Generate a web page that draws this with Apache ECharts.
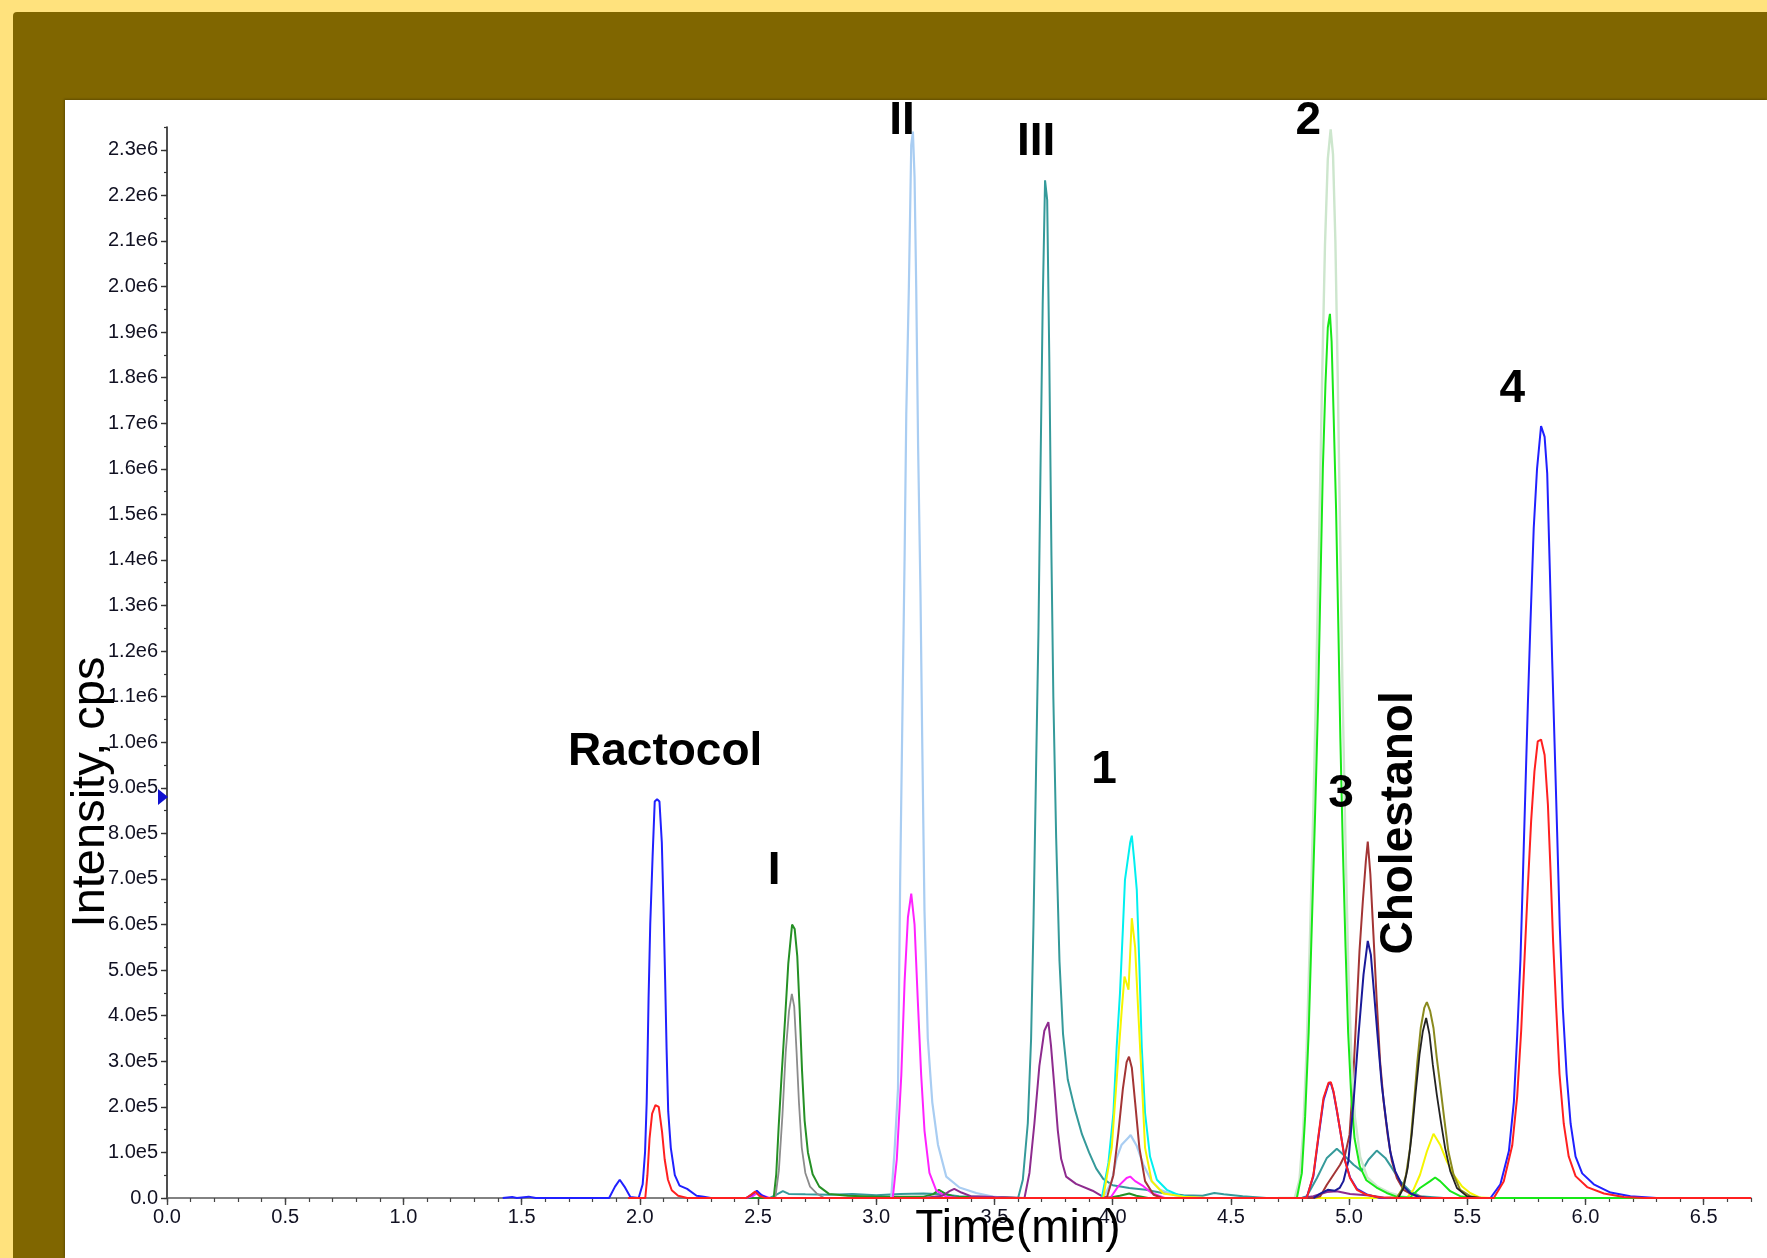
<!DOCTYPE html>
<html><head><meta charset="utf-8">
<script src="https://cdn.jsdelivr.net/npm/echarts@6/dist/echarts.min.js"></script>
<style>
html,body{margin:0;padding:0;width:1767px;height:1258px;overflow:hidden;background:#FFE27D;}
#olive{position:absolute;left:13px;top:12px;right:0;bottom:0;background:#806600;border-top-left-radius:4px;}
#panel{position:absolute;left:65px;top:100px;right:0;bottom:0;background:#fff;box-shadow:-1px -1px 2px rgba(0,0,0,0.25);}
#chart{position:absolute;left:0;top:0;width:1767px;height:1258px;}
</style></head><body>
<div id="olive"></div><div id="panel"></div><div id="chart"></div>
<script>
// ---- tick values ----
const xMajorTicks = [0,0.5,1,1.5,2,2.5,3,3.5,4,4.5,5,5.5,6,6.5];
const yMajorTicks = [0,100000,200000,300000,400000,500000,600000,700000,800000,900000,1000000,1100000,1200000,1300000,1400000,1500000,1600000,1700000,1800000,1900000,2000000,2100000,2200000,2300000];

// ---- traces: [time (min), intensity (cps)] ----
const blueTrace = [[1.42,0],[1.46,2000],[1.48,0],[1.53,3000],[1.56,0],[1.87,0],[1.895,25000],[1.915,40000],[1.935,25000],[1.96,2000],[1.995,0],[2.012,30000],[2.022,100000],[2.029,210000],[2.033,320000],[2.037,440000],[2.044,600000],[2.054,750000],[2.063,870000],[2.073,875000],[2.083,870000],[2.093,780000],[2.1,640000],[2.107,480000],[2.113,330000],[2.12,190000],[2.131,110000],[2.148,50000],[2.168,27000],[2.2,20000],[2.24,5000],[2.27,3000],[2.3,0],[2.45,0],[2.475,8000],[2.495,16000],[2.515,6000],[2.54,0],[4.8,0],[4.82,0],[4.849,48000],[4.871,135000],[4.892,215000],[4.913,250000],[4.923,252000],[4.934,232000],[4.948,192000],[4.965,140000],[4.983,82000],[5.004,45000],[5.033,20000],[5.075,8000],[5.13,0],[5.598,0],[5.64,30000],[5.676,103000],[5.697,211000],[5.711,356000],[5.725,525000],[5.736,719000],[5.746,900000],[5.756,1080000],[5.767,1260000],[5.781,1470000],[5.795,1600000],[5.812,1694000],[5.827,1670000],[5.838,1590000],[5.849,1380000],[5.859,1180000],[5.869,1000000],[5.88,803000],[5.891,598000],[5.904,417000],[5.92,272000],[5.937,163000],[5.958,91000],[5.986,54000],[6.035,30000],[6.106,12000],[6.19,4000],[6.3,0],[6.7,0]];
const redTrace = [[1.95,0],[2.023,0],[2.032,50000],[2.041,130000],[2.052,185000],[2.066,204000],[2.08,200000],[2.094,145000],[2.105,85000],[2.119,40000],[2.135,17000],[2.162,5000],[2.2,0],[2.45,0],[2.47,7000],[2.488,14000],[2.505,5000],[2.53,0],[4.8,0],[4.821,0],[4.849,51000],[4.871,139000],[4.892,220000],[4.913,253000],[4.923,254000],[4.934,234000],[4.948,194000],[4.965,139000],[4.983,81000],[5.004,44000],[5.033,18000],[5.075,7000],[5.131,1000],[5.2,0],[5.612,0],[5.654,36000],[5.69,115000],[5.711,223000],[5.728,368000],[5.742,525000],[5.756,682000],[5.77,827000],[5.784,936000],[5.798,1002000],[5.812,1006000],[5.827,972000],[5.841,863000],[5.852,719000],[5.863,562000],[5.876,417000],[5.89,272000],[5.908,163000],[5.929,91000],[5.958,48000],[6.007,24000],[6.078,10000],[6.162,2000],[6.25,0],[6.7,0]];
const darkGreenTrace = [[2.3,0],[2.566,0],[2.577,52000],[2.587,154000],[2.6,272000],[2.614,390000],[2.628,515000],[2.644,600000],[2.655,590000],[2.666,530000],[2.676,413000],[2.686,280000],[2.697,170000],[2.711,100000],[2.731,52000],[2.759,25000],[2.8,9000],[2.88,5000],[3.0,3000],[3.2,3000],[3.24,8000],[3.265,18000],[3.29,10000],[3.33,3000],[3.6,0],[3.98,0],[4.03,5000],[4.07,10000],[4.1,5000],[4.15,0]];
const grayTrace = [[2.573,0],[2.588,60000],[2.603,180000],[2.617,320000],[2.631,410000],[2.643,448000],[2.653,420000],[2.663,320000],[2.673,210000],[2.685,110000],[2.7,55000],[2.72,25000],[2.748,10000],[2.78,0]];
const tealTrace = [[2.4,0],[2.55,0],[2.58,8000],[2.605,15000],[2.63,9000],[2.7,8000],[2.8,7000],[2.9,9000],[3.0,6000],[3.1,9000],[3.2,10000],[3.28,8000],[3.35,4000],[3.5,2000],[3.6,0],[3.62,40000],[3.641,164000],[3.655,350000],[3.665,600000],[3.676,940000],[3.686,1240000],[3.694,1570000],[3.704,1960000],[3.714,2233000],[3.723,2190000],[3.732,1840000],[3.741,1410000],[3.749,1100000],[3.761,790000],[3.775,520000],[3.79,360000],[3.81,260000],[3.84,195000],[3.87,140000],[3.9,100000],[3.93,65000],[3.96,42000],[4.0,28000],[4.07,22000],[4.14,18000],[4.21,11000],[4.3,6000],[4.38,5000],[4.43,11000],[4.47,8000],[4.55,4000],[4.65,0],[4.8,0],[4.821,4000],[4.864,44000],[4.906,88000],[4.948,108000],[4.976,95000],[5.019,73000],[5.054,59000],[5.082,84000],[5.117,104000],[5.153,88000],[5.181,66000],[5.216,37000],[5.258,15000],[5.3,4000],[5.4,0]];
const lightBlueTrace = [[2.9,0],[3.063,0],[3.077,100000],[3.092,240000],[3.101,690000],[3.113,1150000],[3.12,1410000],[3.127,1720000],[3.138,2000000],[3.148,2310000],[3.155,2340000],[3.162,2240000],[3.169,2000000],[3.177,1650000],[3.187,1330000],[3.194,1020000],[3.204,630000],[3.218,350000],[3.237,210000],[3.261,117000],[3.296,47000],[3.352,23000],[3.423,11000],[3.493,3000],[3.55,0],[3.96,0],[3.996,37000],[4.017,88000],[4.038,117000],[4.067,133000],[4.076,138000],[4.102,114000],[4.13,73000],[4.165,37000],[4.2,18000],[4.257,7000],[4.33,0]];
const magentaTrace = [[2.45,0],[2.48,5000],[2.5,12000],[2.52,5000],[2.55,0],[3.07,0],[3.087,86000],[3.106,270000],[3.12,476000],[3.134,616000],[3.148,668000],[3.162,600000],[3.176,430000],[3.19,270000],[3.204,148000],[3.225,55000],[3.254,16000],[3.296,3000],[3.35,0],[3.99,0],[4.024,26000],[4.059,44000],[4.074,47000],[4.095,37000],[4.13,26000],[4.165,11000],[4.22,0]];
const purpleTrace = [[3.2,0],[3.28,5000],[3.31,15000],[3.33,20000],[3.36,12000],[3.4,4000],[3.5,2000],[3.627,0],[3.648,55000],[3.669,164000],[3.69,290000],[3.711,367000],[3.728,386000],[3.739,335000],[3.754,240000],[3.768,148000],[3.782,86000],[3.803,47000],[3.845,31000],[3.915,16000],[3.958,3000],[4.0,0],[4.8,0],[4.849,4000],[4.906,13000],[4.948,15000],[5.004,9000],[5.075,6000],[5.146,1000],[5.2,0]];
const paleGreenTrace = [[4.7,0],[4.77,0],[4.79,40000],[4.805,140000],[4.82,320000],[4.835,580000],[4.85,880000],[4.862,1160000],[4.874,1470000],[4.886,1800000],[4.898,2090000],[4.91,2280000],[4.922,2345000],[4.932,2290000],[4.942,2100000],[4.952,1800000],[4.962,1460000],[4.972,1120000],[4.984,800000],[4.996,520000],[5.009,320000],[5.024,180000],[5.047,90000],[5.077,45000],[5.12,25000],[5.17,12000],[5.22,4000],[5.26,0]];
const brightGreenTrace = [[4.7,0],[4.779,0],[4.8,54000],[4.814,178000],[4.829,363000],[4.843,610000],[4.857,858000],[4.869,1090000],[4.879,1350000],[4.889,1600000],[4.9,1785000],[4.91,1910000],[4.919,1940000],[4.926,1880000],[4.935,1710000],[4.945,1510000],[4.955,1240000],[4.963,1010000],[4.973,780000],[4.985,550000],[4.996,363000],[5.009,224000],[5.023,131000],[5.045,70000],[5.073,39000],[5.116,23000],[5.159,11000],[5.2,3000],[5.258,1000],[5.3,22000],[5.343,37000],[5.364,45000],[5.385,37000],[5.428,15000],[5.47,4000],[5.52,0],[6.7,0]];
const cyanTrace = [[3.9,0],[3.954,0],[3.982,77000],[4.003,186000],[4.017,332000],[4.031,450000],[4.043,588000],[4.052,698000],[4.074,780000],[4.081,795000],[4.091,742000],[4.102,676000],[4.113,508000],[4.123,332000],[4.137,186000],[4.158,91000],[4.187,40000],[4.229,18000],[4.285,5000],[4.35,0]];
const yellowTrace = [[3.9,0],[3.96,0],[3.996,110000],[4.017,260000],[4.038,410000],[4.05,486000],[4.067,457000],[4.081,614000],[4.095,550000],[4.109,400000],[4.123,260000],[4.137,110000],[4.165,37000],[4.215,10000],[4.3,3000],[4.4,0],[4.8,0],[5.244,0],[5.272,18000],[5.3,51000],[5.329,102000],[5.357,141000],[5.385,117000],[5.413,81000],[5.442,51000],[5.477,26000],[5.512,11000],[5.554,1000],[5.6,0]];
const brownTrace = [[3.95,0],[3.975,0],[4.003,50000],[4.024,143000],[4.043,239000],[4.059,298000],[4.069,310000],[4.081,286000],[4.095,210000],[4.113,110000],[4.137,37000],[4.173,7000],[4.21,0],[4.85,0],[4.878,4000],[4.906,29000],[4.934,51000],[4.962,73000],[4.983,95000],[5.002,139000],[5.016,249000],[5.03,395000],[5.044,542000],[5.058,650000],[5.071,740000],[5.079,782000],[5.09,710000],[5.103,578000],[5.117,432000],[5.131,300000],[5.146,212000],[5.163,139000],[5.181,81000],[5.202,44000],[5.23,18000],[5.273,6000],[5.33,0]];
const navyTrace = [[4.85,0],[4.88,10000],[4.91,18000],[4.94,16000],[4.96,22000],[4.976,37000],[4.997,81000],[5.019,212000],[5.04,359000],[5.061,490000],[5.079,564000],[5.092,534000],[5.106,447000],[5.12,359000],[5.138,249000],[5.157,168000],[5.174,102000],[5.195,59000],[5.223,29000],[5.258,11000],[5.3,1000],[5.35,0]];
const oliveTrace = [[5.15,0],[5.202,1000],[5.223,18000],[5.241,51000],[5.258,110000],[5.275,212000],[5.289,300000],[5.303,373000],[5.318,417000],[5.329,430000],[5.343,410000],[5.357,373000],[5.371,307000],[5.385,249000],[5.402,176000],[5.42,102000],[5.442,51000],[5.47,18000],[5.512,4000],[5.56,0]];
const blackTrace = [[5.15,0],[5.209,1000],[5.23,22000],[5.248,66000],[5.265,139000],[5.282,234000],[5.298,315000],[5.312,366000],[5.326,395000],[5.34,359000],[5.354,293000],[5.371,227000],[5.388,168000],[5.406,110000],[5.428,59000],[5.456,22000],[5.498,4000],[5.55,0]];

// ---- peak annotations (data coordinates of text centre) ----
const peakLabels = ['Ractocol','I','II','III','1','2','3','Cholestanol','4'];
const peakLabelTime = [2.107,2.568,3.109,3.676,3.964,4.827,4.966,5.212,5.690];
const peakLabelLevel = [977000,716000,2363000,2317000,938000,2363000,885000,823000,1774000];
const peakLabelVertical = [false,false,false,false,false,false,false,true,false];
const markerLevel = 880000;

const traces = [
  {name:'teal', data:tealTrace, color:'#359A9A', w:2},
  {name:'gray', data:grayTrace, color:'#8C8C8C', w:1.8},
  {name:'darkgreen', data:darkGreenTrace, color:'#259025', w:2},
  {name:'lightblue', data:lightBlueTrace, color:'#A9CDF2', w:2.2},
  {name:'magenta', data:magentaTrace, color:'#FF22FF', w:2},
  {name:'purple', data:purpleTrace, color:'#8E2B8E', w:2},
  {name:'cyan', data:cyanTrace, color:'#00F0F0', w:2},
  {name:'yellow', data:yellowTrace, color:'#F5F500', w:2},
  {name:'brown', data:brownTrace, color:'#A33535', w:2},
  {name:'palegreen', data:paleGreenTrace, color:'#CDE6CD', w:2.4},
  {name:'brightgreen', data:brightGreenTrace, color:'#18E818', w:2},
  {name:'navy', data:navyTrace, color:'#1A1A99', w:2},
  {name:'olive', data:oliveTrace, color:'#8A8A1E', w:2},
  {name:'black', data:blackTrace, color:'#222222', w:1.8},
  {name:'blue', data:blueTrace, color:'#2020FF', w:2},
  {name:'red', data:redTrace, color:'#FF2020', w:2}
];

const FONT = '"Liberation Sans", Arial, sans-serif';
function fmtY(v){ const k=Math.round(v/1e5); if(Math.abs(v/1e5-k)>1e-6) return ''; if(k===0) return '0.0'; if(k>=10) return (k/10).toFixed(1)+'e6'; return k.toFixed(1)+'e5'; }
function fmtX(v){ const k=Math.round(v*2); if(Math.abs(v*2-k)>1e-6) return ''; return v.toFixed(1); }

const chart = echarts.init(document.getElementById('chart'), null, {renderer:'canvas'});
const grid = {left:167, top:127, width:1584, height:1071};
chart.setOption({
  animation:false,
  backgroundColor:'transparent',
  grid:grid,
  xAxis:[
    {type:'value', min:0, max:6.7, interval:0.1, position:'bottom',
     axisLine:{show:true, onZero:false, lineStyle:{color:'#5a5a5a', width:1.5}},
     axisTick:{show:true, length:4, lineStyle:{color:'#444', width:1.2}},
     axisLabel:{show:true, formatter:fmtX, margin:9, fontSize:20, fontFamily:FONT, color:'#111122'},
     splitLine:{show:false}},
    {type:'value', min:0, max:6.7, interval:0.5, position:'bottom',
     axisLine:{show:false}, axisLabel:{show:false}, splitLine:{show:false},
     axisTick:{show:true, length:7, customValues:xMajorTicks, lineStyle:{color:'#444', width:1.4}}}
  ],
  yAxis:[
    {type:'value', min:0, max:2350000, interval:50000, position:'left',
     axisLine:{show:true, onZero:false, lineStyle:{color:'#222', width:1.6}},
     axisTick:{show:true, length:3, lineStyle:{color:'#333', width:1.2}},
     axisLabel:{show:true, formatter:fmtY, margin:9, fontSize:20, fontFamily:FONT, color:'#111122'},
     splitLine:{show:false}},
    {type:'value', min:0, max:2350000, interval:100000, position:'left',
     axisLine:{show:false}, axisLabel:{show:false}, splitLine:{show:false},
     axisTick:{show:true, length:6, customValues:yMajorTicks, lineStyle:{color:'#333', width:1.4}}}
  ],
  series: traces.map(t => ({
    type:'line', name:t.name, data:t.data, showSymbol:false, symbol:'none',
    lineStyle:{color:t.color, width:t.w}, itemStyle:{color:t.color},
    emphasis:{disabled:true}, silent:true, clip:true
  }))
});

// annotations placed from data coordinates
const g = [];
for (let i=0;i<peakLabels.length;i++){
  const p = chart.convertToPixel({gridIndex:0}, [peakLabelTime[i], peakLabelLevel[i]]);
  g.push({type:'text', x:p[0], y:p[1], rotation: peakLabelVertical[i] ? Math.PI/2 : 0, z:100,
    style:{text:peakLabels[i], font:'bold 46px '+FONT, fill:'#000', textAlign:'center', textVerticalAlign:'middle'}});
}
const mp = chart.convertToPixel({gridIndex:0}, [0, markerLevel]);
g.push({type:'polygon', z:100, shape:{points:[[mp[0]-9,mp[1]-8],[mp[0]+1,mp[1]],[mp[0]-9,mp[1]+8]]}, style:{fill:'#1010D0'}});
// axis titles
g.push({type:'text', x:91, y:792, rotation:Math.PI/2, z:100,
  style:{text:'Intensity, cps', font:'47px '+FONT, fill:'#000', textAlign:'center', textVerticalAlign:'middle'}});
g.push({type:'text', x:1018, y:1229, z:100,
  style:{text:'Time(min)', font:'46px '+FONT, fill:'#000', textAlign:'center', textVerticalAlign:'middle'}});
chart.setOption({graphic:g});
</script></body></html>
